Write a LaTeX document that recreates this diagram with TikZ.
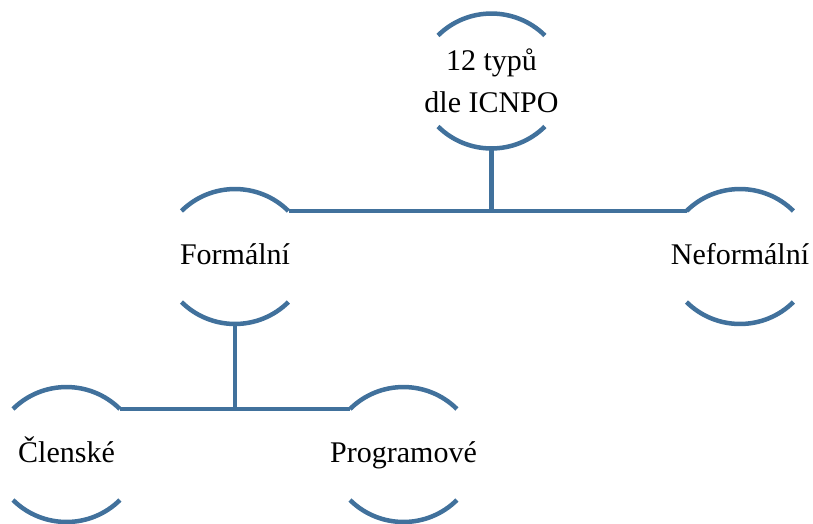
\documentclass[tikz,border=0pt]{standalone}
\usepackage{fontspec}
\setmainfont{Liberation Serif}
\usetikzlibrary{calc}
\definecolor{lineblue}{HTML}{41719C}
\begin{document}
\begin{tikzpicture}[x=1pt,y=1pt,
  conn/.style={draw=lineblue,line width=4.5pt},
  lbl/.style={font=\fontsize{30}{42}\selectfont,align=center,inner sep=0pt},
  one/.style={lbl,text height=16pt,text depth=0pt}]
\useasboundingbox (0,0) rectangle (813,-523);
\node[lbl] (top) at (491.5,-81) {12 typů\\dle ICNPO};
\node[one] (for) at (235,-256.5) {Formální};
\node[one] (nef) at (740,-256.5) {Neformální};
\node[one] (cle) at (66.5,-454.5) {Členské};
\node[one] (pro) at (403.5,-454.5) {Programové};
\foreach \n in {top,for,nef,cle,pro}{
  \coordinate (\n-tl) at ($(\n.center)+(-53.5,45.5)$);
  \coordinate (\n-tr) at ($(\n.center)+(53.5,45.5)$);
  \coordinate (\n-bl) at ($(\n.center)+(-53.5,-45.5)$);
  \coordinate (\n-b) at ($(\n.center)+(0,-68.5)$);
  \draw[conn] (\n-tl) arc[start angle=134.7,end angle=45.3,radius=76];
  \draw[conn] (\n-bl) arc[start angle=225.3,end angle=314.7,radius=76];
}
\coordinate (j1) at (top-b |- for-tr);
\draw[conn] (top-b) -- (j1);
\draw[conn] (for-tr) -- (nef-tl);
\coordinate (j2) at (for-b |- cle-tr);
\draw[conn] (for-b) -- (j2);
\draw[conn] (cle-tr) -- (pro-tl);
\end{tikzpicture}
\end{document}
